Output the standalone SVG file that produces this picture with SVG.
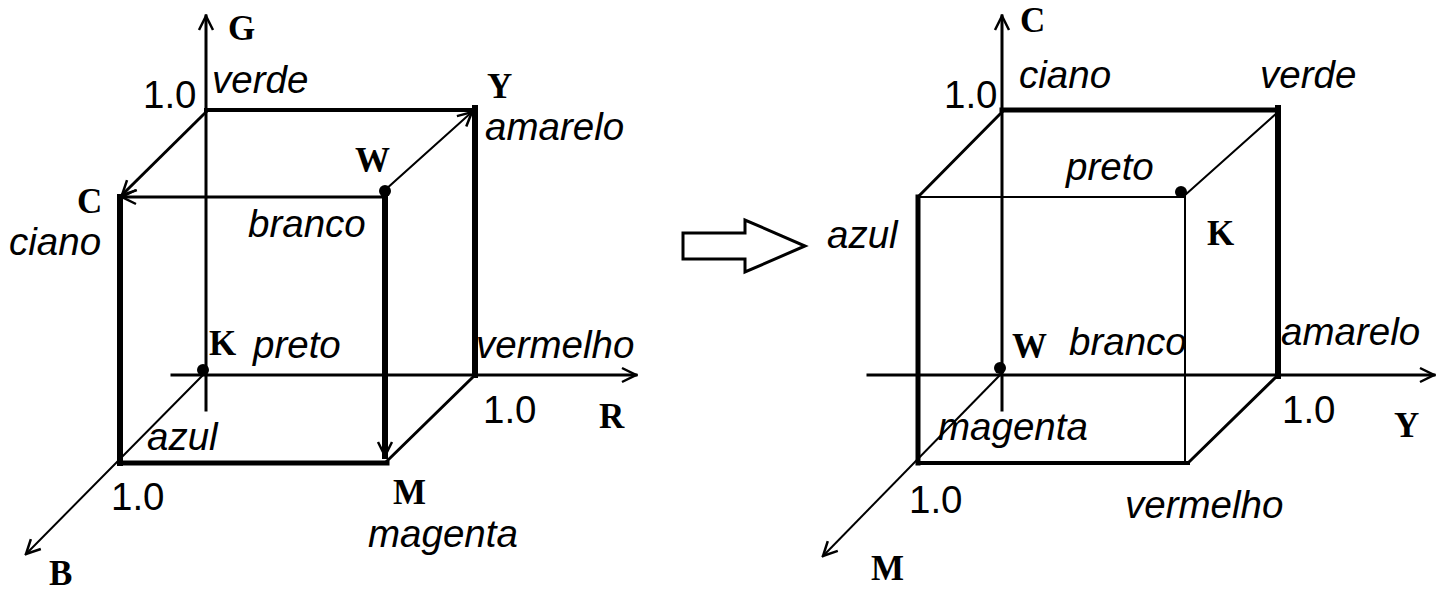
<svg xmlns="http://www.w3.org/2000/svg" width="1438" height="591" viewBox="0 0 1438 591">
<defs>
<style>
.ln{stroke:#000;fill:none;stroke-linecap:square}
.it{font-family:"Liberation Sans",Arial,sans-serif;font-style:italic;font-size:38.5px;fill:#000}
.nm{font-family:"Liberation Sans",Arial,sans-serif;font-size:38.5px;fill:#000}
.bs{font-family:"Liberation Serif","Times New Roman",serif;font-weight:bold;font-size:35px;fill:#000}
</style>
<marker id="ar" markerUnits="userSpaceOnUse" markerWidth="20" markerHeight="20" viewBox="0 0 20 20" refX="18" refY="10" orient="auto">
<path d="M4,3 L18,10 L4,17" fill="none" stroke="#000" stroke-width="2.5"/>
</marker>
</defs>
<rect width="1438" height="591" fill="#fff"/>
<g id="connectors">
<line class="ln" x1="206" y1="410" x2="206" y2="16" stroke-width="3" marker-end="url(#ar)"/>
<line class="ln" x1="206" y1="110" x2="475" y2="110" stroke-width="4"/>
<line class="ln" x1="475" y1="108" x2="475" y2="375" stroke-width="6"/>
<line class="ln" x1="206" y1="112" x2="122" y2="195" stroke-width="3" marker-end="url(#ar)"/>
<line class="ln" x1="385" y1="197" x2="122" y2="197" stroke-width="3" marker-end="url(#ar)"/>
<line class="ln" x1="385" y1="190" x2="472" y2="112" stroke-width="2" marker-end="url(#ar)"/>
<line class="ln" x1="120" y1="197" x2="120" y2="463" stroke-width="6"/>
<line class="ln" x1="385" y1="190" x2="385" y2="456" stroke-width="6" marker-end="url(#ar)"/>
<line class="ln" x1="120" y1="463" x2="387" y2="463" stroke-width="5"/>
<line class="ln" x1="385" y1="463" x2="475" y2="375" stroke-width="3"/>
<line class="ln" x1="172" y1="375" x2="636" y2="375" stroke-width="3" marker-end="url(#ar)"/>
<line class="ln" x1="203" y1="375" x2="26" y2="554" stroke-width="2" marker-end="url(#ar)"/>
<line class="ln" x1="1002" y1="410" x2="1002" y2="16" stroke-width="3" marker-end="url(#ar)"/>
<line class="ln" x1="1002" y1="110" x2="1278" y2="110" stroke-width="5"/>
<line class="ln" x1="1278" y1="108" x2="1278" y2="376" stroke-width="6"/>
<line class="ln" x1="1002" y1="112" x2="918" y2="197" stroke-width="3"/>
<line class="ln" x1="1278" y1="112" x2="1185" y2="195" stroke-width="2"/>
<line class="ln" x1="918" y1="197" x2="1185" y2="197" stroke-width="2"/>
<line class="ln" x1="918" y1="197" x2="918" y2="463" stroke-width="5"/>
<line class="ln" x1="1185" y1="195" x2="1185" y2="463" stroke-width="2"/>
<line class="ln" x1="868" y1="375" x2="1434" y2="375" stroke-width="3" marker-end="url(#ar)"/>
<line class="ln" x1="918" y1="463" x2="1188" y2="463" stroke-width="4"/>
<line class="ln" x1="1188" y1="463" x2="1278" y2="375" stroke-width="3"/>
<line class="ln" x1="1000" y1="375" x2="823" y2="556" stroke-width="2" marker-end="url(#ar)"/>
</g>
<g id="hollow-arrow">
<path d="M683,233 L745,233 L745,220 L805,246 L745,272 L745,259 L683,259 Z" fill="#fff" stroke="#000" stroke-width="3"/>
</g>
<g id="left-cube-labels">
<g id="node-G"><text class="bs" x="228" y="40">G</text></g>
<g id="node-verde-L"><text class="nm" x="143" y="108">1.0</text><text class="it" x="212" y="93">verde</text></g>
<g id="node-Y-L"><text class="bs" x="487" y="98">Y</text><text class="it" x="485" y="140">amarelo</text></g>
<g id="node-W-L"><circle cx="385" cy="191" r="6"/><text class="bs" x="355" y="172">W</text><text class="it" x="248" y="237">branco</text></g>
<g id="node-C-L"><text class="bs" x="77" y="213">C</text><text class="it" x="9" y="255">ciano</text></g>
<g id="node-K-L"><circle cx="203" cy="370" r="6"/><text class="bs" x="209" y="355">K</text><text class="it" x="253" y="358">preto</text></g>
<g id="node-R"><text class="it" x="476" y="358">vermelho</text><text class="nm" x="483" y="423">1.0</text><text class="bs" x="599" y="428">R</text></g>
<g id="node-azul-L"><text class="it" x="147" y="450">azul</text><text class="nm" x="111" y="510">1.0</text></g>
<g id="node-M-L"><text class="bs" x="393" y="504">M</text><text class="it" x="368" y="547">magenta</text></g>
<g id="node-B"><text class="bs" x="49" y="585">B</text></g>
</g>
<g id="right-cube-labels">
<g id="node-C-R"><text class="bs" x="1020" y="32">C</text></g>
<g id="node-ciano-R"><text class="nm" x="944" y="108">1.0</text><text class="it" x="1019" y="88">ciano</text></g>
<g id="node-verde-R"><text class="it" x="1260" y="88">verde</text></g>
<g id="node-K-R"><circle cx="1181" cy="192" r="6"/><text class="it" x="1066" y="180">preto</text><text class="bs" x="1207" y="245">K</text></g>
<g id="node-azul-R"><text class="it" x="827" y="248">azul</text></g>
<g id="node-W-R"><circle cx="1000" cy="368" r="6"/><text class="bs" x="1012" y="358">W</text><text class="it" x="1069" y="355">branco</text></g>
<g id="node-Y-R"><text class="it" x="1281" y="345">amarelo</text><text class="nm" x="1282" y="423">1.0</text><text class="bs" x="1394" y="437">Y</text></g>
<g id="node-magenta-R"><text class="it" x="938" y="440">magenta</text><text class="nm" x="909" y="513">1.0</text></g>
<g id="node-vermelho-R"><text class="it" x="1125" y="518">vermelho</text></g>
<g id="node-M-R"><text class="bs" x="871" y="580">M</text></g>
</g>
</svg>
